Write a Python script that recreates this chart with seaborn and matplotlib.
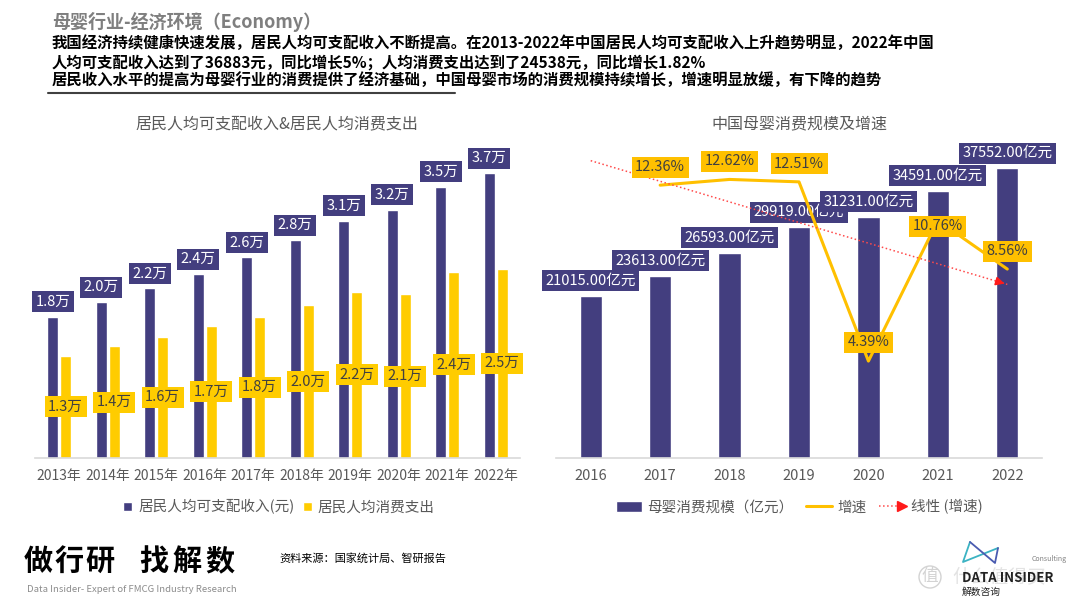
import numpy as np
import pandas as pd
import matplotlib
matplotlib.use("Agg")
import matplotlib.pyplot as plt
import seaborn as sns
from matplotlib.lines import Line2D
from matplotlib.patches import Patch
from matplotlib.legend_handler import HandlerBase

# ---------------- data ----------------
years_left = ['2013年', '2014年', '2015年', '2016年', '2017年',
              '2018年', '2019年', '2020年', '2021年', '2022年']
income = [18311, 20167, 21966, 23821, 25974, 28228, 30733, 32189, 35128, 36883]
consumption = [13220, 14491, 15712, 17111, 18322, 19853, 21559, 21210, 24100, 24538]
series_left = ['居民人均可支配收入(元)', '居民人均消费支出']

years_right = ['2016', '2017', '2018', '2019', '2020', '2021', '2022']
market = [21015, 23613, 26593, 29919, 31231, 34591, 37552]
growth_years = ['2017', '2018', '2019', '2020', '2021', '2022']
growth = [12.36, 12.62, 12.51, 4.39, 10.76, 8.56]
series_right = ['母婴消费规模（亿元）', '增速', '线性 (增速)']

title_main = '母婴行业-经济环境（Economy）'
body_lines = [
    '我国经济持续健康快速发展，居民人均可支配收入不断提高。在2013-2022年中国居民人均可支配收入上升趋势明显，2022年中国',
    '人均可支配收入达到了36883元，同比增长5%；人均消费支出达到了24538元，同比增长1.82%',
    '居民收入水平的提高为母婴行业的消费提供了经济基础，中国母婴市场的消费规模持续增长，增速明显放缓，有下降的趋势',
]
title_left = '居民人均可支配收入&居民人均消费支出'
title_right = '中国母婴消费规模及增速'
source_text = '资料来源：国家统计局、智研报告'
brand_text = '做行研 找解数'
brand_sub = 'Data Insider- Expert of FMCG Industry Research'

# ---------------- style ----------------
sns.set_theme(style='white')
plt.rcParams['font.family'] = ['Noto Sans CJK SC', 'DejaVu Sans']

NAVY = '#433E7F'
YEL = '#FFCC00'
ORG = '#FFC000'
GRAY = '#595959'
DARK = '#404040'
W, H = 1080, 608
LBL = 10.5
PAD = 'square,pad=0.24'


def fy(py):
    return 1 - py / H


fig = plt.figure(figsize=(10.8, 6.08), dpi=100)

# ---------------- left chart ----------------
axL = fig.add_axes([35 / W, (H - 458) / H, 485 / W, 330 / H])
dfL = pd.DataFrame({
    'year': years_left * 2,
    'value': income + consumption,
    'series': [series_left[0]] * len(years_left) + [series_left[1]] * len(years_left),
})
sns.barplot(data=dfL, x='year', y='value', hue='series', hue_order=series_left,
            palette=[NAVY, YEL], saturation=1, width=0.53, gap=0.15,
            ax=axL, legend=False)
axL.set_ylim(0, 42750)
axL.set_xlim(-0.5, len(years_left) - 0.5)

for bar in axL.containers[0]:
    x = bar.get_x() + bar.get_width() / 2
    v = bar.get_height()
    axL.annotate(f'{v / 10000:.1f}万', (x, v), xytext=(0, 15), textcoords='offset pixels',
                 ha='center', va='center', color='white', fontsize=LBL,
                 bbox=dict(boxstyle=PAD, fc=NAVY, ec='none'))
for bar in axL.containers[1]:
    x = bar.get_x() + bar.get_width() / 2
    v = bar.get_height()
    axL.annotate(f'{v / 10000:.1f}万', (x, v / 2), ha='center', va='center',
                 color=DARK, fontsize=LBL,
                 bbox=dict(boxstyle=PAD, fc=YEL, ec='none'))

# ---------------- right chart ----------------
axR = fig.add_axes([556 / W, (H - 458) / H, 486 / W, 330 / H])
dfR = pd.DataFrame({'year': years_right, 'value': market})
sns.barplot(data=dfR, x='year', y='value', color=NAVY, saturation=1, width=0.32, ax=axR)
axR.set_ylim(0, 42750)

ax2 = axR.twinx()
pos = np.array([years_right.index(y) for y in growth_years])
sns.lineplot(x=pos, y=growth, ax=ax2, color=ORG, lw=2.2)
coef = np.polyfit(pos, growth, 1)
tx = np.arange(len(years_right))
ty = np.polyval(coef, tx)
ax2.plot(tx, ty, ls=':', color='#FF4A4A', lw=1.1)
ax2.annotate('', xy=(tx[-1], ty[-1]),
             xytext=(tx[-1] - 0.2, np.polyval(coef, tx[-1] - 0.2)),
             arrowprops=dict(arrowstyle='-|>', color='#FF1A1A', lw=1.1, mutation_scale=13))
ax2.set_ylim(0, 14.95)
axR.set_xlim(-0.5, len(years_right) - 0.5)

for bar in axR.containers[0]:
    x = bar.get_x() + bar.get_width() / 2
    v = bar.get_height()
    axR.annotate(f'{v:.2f}亿元', (x, v), xytext=(0, 15), textcoords='offset pixels',
                 ha='center', va='center', color='white', fontsize=LBL,
                 bbox=dict(boxstyle=PAD, fc=NAVY, ec='none'))

label_dy = [18, 18, 18, 19, -6, 18]
for p, g, dy in zip(pos, growth, label_dy):
    ax2.annotate(f'{g:.2f}%', (p, g), xytext=(0, dy), textcoords='offset pixels',
                 ha='center', va='center', color=DARK, fontsize=LBL,
                 bbox=dict(boxstyle=PAD, fc=ORG, ec='none'))

# ---------------- axes cosmetics ----------------
for ax in (axL, axR, ax2):
    ax.set_xlabel('')
    ax.set_ylabel('')
    ax.set_yticks([])
    for s in ('top', 'left', 'right'):
        ax.spines[s].set_visible(False)
    ax.spines['bottom'].set_color('#D9D9D9')
    ax.spines['bottom'].set_linewidth(1.2)
    ax.set_facecolor('none')
ax2.spines['bottom'].set_visible(False)
axL.tick_params(axis='x', length=0, labelsize=10, colors=GRAY, pad=8)
axR.tick_params(axis='x', length=0, labelsize=10.5, colors=GRAY, pad=8)

# chart titles
fig.text(277 / W, fy(124), title_left, ha='center', va='center', fontsize=11.5, color=GRAY)
fig.text(799 / W, fy(124), title_right, ha='center', va='center', fontsize=11.5, color=GRAY)

# legends
axL.legend([Patch(fc=NAVY), Patch(fc=YEL)], series_left, loc='center',
           bbox_to_anchor=(279 / W, fy(507)), bbox_transform=fig.transFigure,
           ncol=2, frameon=False, fontsize=10.5, labelcolor=GRAY,
           handlelength=0.6, handleheight=0.6, handletextpad=0.4, columnspacing=0.6)


class ArrowHandler(HandlerBase):
    def create_artists(self, legend, orig_handle, xdescent, ydescent, width, height, fontsize, trans):
        y = height / 2 - ydescent
        line = Line2D([-xdescent, width - xdescent - 3], [y, y], ls=':', color='#FF4A4A', lw=1.1,
                      transform=trans)
        head = Line2D([width - xdescent - 2], [y], marker='>', ms=7, color='#FF1A1A', ls='none',
                      transform=trans)
        return [line, head]


trend_handle = Line2D([], [], color='#FF4A4A', ls=':')
ax2.legend([Patch(fc=NAVY), Line2D([], [], color=ORG, lw=2.2), trend_handle], series_right,
           loc='center', bbox_to_anchor=(799 / W, fy(507)), bbox_transform=fig.transFigure,
           ncol=3, frameon=False, fontsize=10.5, labelcolor=GRAY,
           handlelength=1.8, handletextpad=0.4, columnspacing=0.8,
           handler_map={trend_handle: ArrowHandler()})

# ---------------- header ----------------
fig.text(52 / W, fy(22), title_main, ha='left', va='center', fontsize=13,
         fontweight='bold', color='#7F7F7F')
for yy, line in zip([43, 62, 80], body_lines):
    fig.text(52 / W, fy(yy), line, ha='left', va='center', fontsize=11.1,
             fontweight='bold', color='black')
fig.add_artist(Line2D([48 / W, 455 / W], [fy(93), fy(93)], color='#404040', lw=1.5))

# ---------------- footer ----------------
brand_x = [38, 69, 100, 154, 187, 220]
for ch, bx in zip(brand_text.replace(' ', ''), brand_x):
    fig.text(bx / W, fy(561), ch, ha='center', va='center', fontsize=21,
             fontweight='bold', color='black')
fig.text(27 / W, fy(589), brand_sub, ha='left', va='center', fontsize=6.9, color='#8C8C8C')
fig.text(279 / W, fy(558), source_text, ha='left', va='center', fontsize=8, color='black')

# logo
fig.add_artist(Line2D([970 / W, 963 / W, 998 / W], [fy(542), fy(562), fy(548)],
                      color='#3BB3C3', lw=1.3))
fig.add_artist(Line2D([970 / W, 995 / W, 998 / W], [fy(542), fy(563), fy(548)],
                      color='#4A5BB0', lw=1.3))
fig.text(1032 / W, fy(559), 'Consulting', ha='left', va='center', fontsize=5, color='#7F7F7F')
fig.text(930 / W, fy(577), '值', ha='center', va='center', fontsize=12, color='#C8C8C8', alpha=0.8,
         bbox=dict(boxstyle='circle,pad=0.15', fc='none', ec='#C8C8C8', alpha=0.8))
fig.text(952 / W, fy(577), '什么值得买', ha='left', va='center', fontsize=13.5, color='#C8C8C8',
         alpha=0.5)
fig.text(962 / W, fy(578), 'DATA INSIDER', ha='left', va='center', fontsize=9.5,
         fontweight='bold', color='#222222')
fig.text(962 / W, fy(592), '解数咨询', ha='left', va='center', fontsize=7, color='#222222')

fig.savefig('out.png', dpi=100, facecolor='white')
